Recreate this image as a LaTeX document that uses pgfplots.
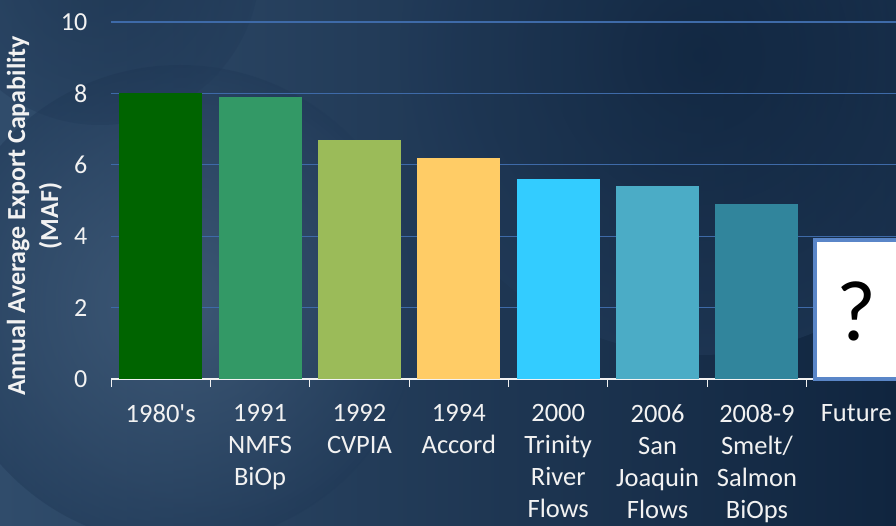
\documentclass[border=0pt]{standalone}
\usepackage{pgfplots}
\pgfplotsset{compat=1.18}
\usepackage{fontspec}
\setmainfont{Carlito}
\definecolor{bgL}{HTML}{304C6B}
\definecolor{bgM}{HTML}{213A58}
\definecolor{bgR}{HTML}{10253F}
\definecolor{glow}{HTML}{506B88}
\definecolor{gridc}{HTML}{3E6AA8}
\definecolor{cA}{HTML}{006400}
\definecolor{cB}{HTML}{339966}
\definecolor{cC}{HTML}{9BBB59}
\definecolor{cD}{HTML}{FFCC66}
\definecolor{cE}{HTML}{33CCFF}
\definecolor{cF}{HTML}{4BACC6}
\definecolor{cG}{HTML}{31859C}
\definecolor{futb}{HTML}{5A86C8}
\definecolor{txt}{HTML}{F2F2F2}
\begin{document}
\begin{tikzpicture}[x=1pt,y=1pt]
\clip (0,0) rectangle (896,525);
\shade[left color=bgL, middle color=bgM, right color=bgR] (0,0) rectangle (896,525);
\shade[inner color=glow, outer color=bgM, opacity=0.5] (180,220) circle (240);
\shade[inner color=bgR, outer color=bgM, opacity=0.6] (700,470) circle (300);
\shade[inner color=bgR, outer color=bgM, opacity=0.4] (100,560) circle (160);
\begin{axis}[
  at={(111pt,146pt)}, anchor=south west,
  scale only axis, width=795pt, height=357pt,
  xmin=-0.5, xmax=7.5, ymin=0, ymax=10,
  axis x line=bottom, axis y line=left,
  x axis line style={-, draw=txt, line width=1.3pt},
  y axis line style={draw=none},
  ytick={0,2,...,10},
  ytick style={draw=none},
  ymajorgrids,
  grid style={draw=gridc, line width=1.3pt},
  xtick={0,...,7},
  xtick style={draw=none},
  xticklabels={1980\textquotesingle s,1991\\NMFS\\BiOp,1992\\CVPIA,1994\\Accord,2000\\Trinity\\River\\Flows,2006\\San\\Joaquin\\Flows,2008-9\\Smelt/\\Salmon\\BiOps,Future},
  extra x ticks={-0.5,0.5,...,7.5},
  extra x tick labels={},
  extra x tick style={tick align=outside, major tick length=8pt, xtick style={draw=txt, line width=1pt}},
  x tick label style={align=center, anchor=north, text=txt, font=\fontsize{26.5}{32}\selectfont, yshift=-19.5pt},
  y tick label style={text=txt, font=\fontsize{26}{30}\selectfont, xshift=-18pt},
  /pgf/number format/assume math mode=true,
  ylabel={Annual Average Export Capability\\(MAF)},
  ylabel style={at={(ticklabel cs:0.457)}, yshift=-8pt, align=center, text=txt, font=\bfseries\fontsize{26}{33}\selectfont},
  clip=false,
]
\addplot[ybar, bar width=83pt, bar shift=0pt, fill=cA, draw=none] coordinates {(0,8.0)};
\addplot[ybar, bar width=83pt, bar shift=0pt, fill=cB, draw=none] coordinates {(1,7.9)};
\addplot[ybar, bar width=83pt, bar shift=0pt, fill=cC, draw=none] coordinates {(2,6.7)};
\addplot[ybar, bar width=83pt, bar shift=0pt, fill=cD, draw=none] coordinates {(3,6.2)};
\addplot[ybar, bar width=83pt, bar shift=0pt, fill=cE, draw=none] coordinates {(4,5.6)};
\addplot[ybar, bar width=83pt, bar shift=0pt, fill=cF, draw=none] coordinates {(5,5.4)};
\addplot[ybar, bar width=83pt, bar shift=0pt, fill=cG, draw=none] coordinates {(6,4.9)};
\addplot[ybar, bar width=83pt, bar shift=0pt, fill=white, draw=futb, line width=4pt] coordinates {(7,3.9)};
\node[text=black, font=\fontsize{86}{86}\selectfont] at (axis cs:7,1.9) {?};
\end{axis}
\end{tikzpicture}
\end{document}
